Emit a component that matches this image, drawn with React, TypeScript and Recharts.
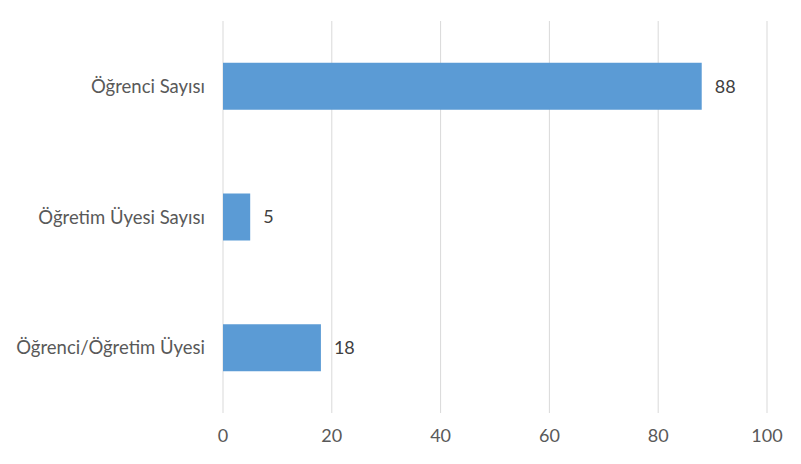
import { BarChart, Bar, XAxis, YAxis, CartesianGrid, LabelList } from "recharts";

const categories = ["Öğrenci Sayısı", "Öğretim Üyesi Sayısı", "Öğrenci/Öğretim Üyesi"];
const values = [88, 5, 18];
const xTicks = [0, 20, 40, 60, 80, 100];

const data = categories.map((name, i) => ({ name, value: values[i] }));

const FONT = "Lato, 'Open Sans', sans-serif";

export default function App() {
  return (
    <div style={{ position: "absolute", left: 0, top: 0, background: "#fff" }}>
      <BarChart
        width={801}
        height={464}
        data={data}
        layout="vertical"
        margin={{ top: 21, right: 34, bottom: 0, left: 0 }}
        barCategoryGap="32%"
      >
        <CartesianGrid horizontal={false} stroke="#d9d9d9" />
        <XAxis
          type="number"
          domain={[0, 100]}
          ticks={xTicks}
          axisLine={false}
          tickLine={false}
          height={51}
          tickMargin={10}
          tick={{ fill: "#595959", fontSize: 18, fontFamily: FONT }}
        />
        <YAxis
          type="category"
          dataKey="name"
          width={223}
          axisLine={false}
          tickLine={false}
          tickMargin={12}
          tick={{ fill: "#595959", fontSize: 18.5, fontFamily: FONT }}
        />
        <Bar dataKey="value" fill="#5b9bd5" isAnimationActive={false}>
          <LabelList
            dataKey="value"
            position="right"
            offset={13}
            fill="#404040"
            fontSize={18}
            fontFamily={FONT}
          />
        </Bar>
      </BarChart>
    </div>
  );
}
